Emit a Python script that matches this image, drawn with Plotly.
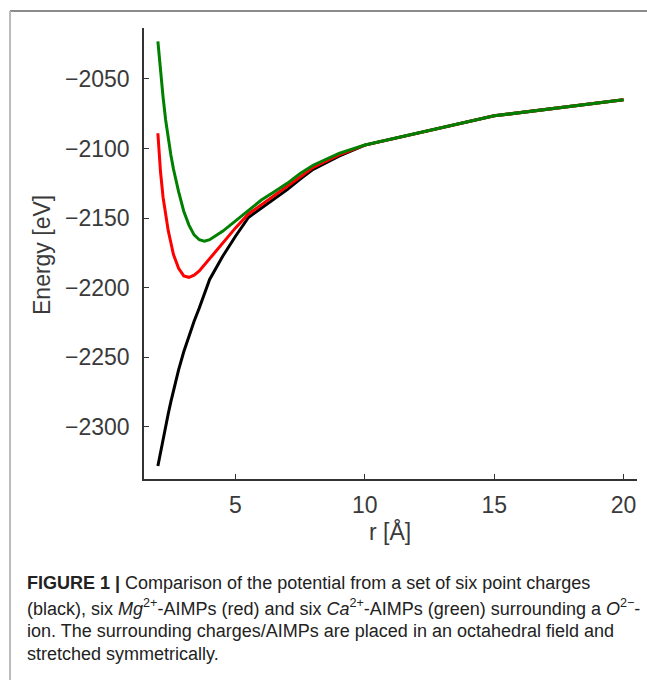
import plotly.graph_objects as go

# Distance r [Å]
r = [2.0, 2.1, 2.2, 2.3, 2.4, 2.5, 2.6, 2.8, 3.0, 3.2, 3.4, 3.6, 3.8, 4.0,
     4.5, 5.0, 5.5, 6.0, 6.5, 7.0, 7.5, 8.0, 9.0, 10.0, 15.0, 20.0]

# Energy [eV]
e_point_charges = [-2328, -2318, -2308.5, -2299.5, -2290.5, -2282, -2274, -2259, -2246,
                   -2234.5, -2224, -2214.5, -2203.5, -2194, -2177.5, -2163, -2149.5,
                   -2143, -2136.5, -2129.5, -2122, -2115, -2105.5, -2097.5, -2076.5, -2065]
e_mg_aimp = [-2089, -2116.5, -2135, -2147.5, -2159, -2167.5, -2176, -2186, -2191.5,
             -2192.5, -2191, -2188, -2183.5, -2179, -2167.5, -2157, -2147, -2140.5,
             -2134, -2127.5, -2120.5, -2113.5, -2104.5, -2097.5, -2076.5, -2065]
e_ca_aimp = [-2023, -2044, -2063, -2079.5, -2093, -2104.5, -2114.5, -2131, -2145, -2155,
             -2162, -2165.5, -2166.5, -2165.5, -2159.5, -2152, -2144.5, -2137,
             -2131, -2125, -2118, -2112, -2103.5, -2097.5, -2076.5, -2065]

x_ticks = [5, 10, 15, 20]
y_ticks = [-2300, -2250, -2200, -2150, -2100, -2050]

caption_lines = [
    "<b>FIGURE 1 |</b> Comparison of the potential from a set of six point charges",
    "(black), six <i>Mg</i><sup>2+</sup>-AIMPs (red) and six <i>Ca</i><sup>2+</sup>-AIMPs (green) surrounding a <i>O</i><sup>2−</sup>-",
    "ion. The surrounding charges/AIMPs are placed in an octahedral field and",
    "stretched symmetrically.",
]

fig = go.Figure()
fig.add_trace(go.Scatter(x=r, y=e_point_charges, mode="lines",
                         line=dict(color="#000000", width=3), name="point charges"))
fig.add_trace(go.Scatter(x=r, y=e_mg_aimp, mode="lines",
                         line=dict(color="#ff0000", width=3), name="Mg2+ AIMPs"))
fig.add_trace(go.Scatter(x=r, y=e_ca_aimp, mode="lines",
                         line=dict(color="#008000", width=3), name="Ca2+ AIMPs"))

W, H = 647, 680
L, R, T, B = 144, 10, 28, 201
PW, PH = W - L - R, H - T - B

def px_x(x):
    return (x - L) / PW

def px_y(y):
    return (H - B - y) / PH

font_family = "Liberation Sans, Arial, sans-serif"
axis_col = "#333333"
text_col = "#3a3a3a"

fig.update_layout(
    width=W, height=H,
    margin=dict(l=L, r=R, t=T, b=B, autoexpand=False),
    paper_bgcolor="white", plot_bgcolor="white",
    showlegend=False,
    font=dict(family=font_family, color=text_col),
    xaxis=dict(range=[1.463, 20.52], tickvals=x_ticks, ticks="inside", ticklen=5,
               tickcolor=axis_col, tickwidth=1.2, showline=True, linecolor=axis_col,
               linewidth=1.5, showgrid=False, zeroline=False,
               tickfont=dict(size=23, color=text_col), ticklabelstandoff=5),
    yaxis=dict(range=[-2337.4, -2013.4], tickvals=y_ticks, ticks="inside", ticklen=5,
               tickcolor=axis_col, tickwidth=1.2, showline=True, linecolor=axis_col,
               linewidth=1.5, showgrid=False, zeroline=False,
               tickfont=dict(size=23, color=text_col), ticklabelstandoff=8),
)

annotations = [
    dict(text="r [Å]", xref="paper", yref="paper", x=px_x(390), y=px_y(531),
         xanchor="center", yanchor="middle", showarrow=False,
         font=dict(size=23, color=text_col)),
    dict(text="Energy [eV]", xref="paper", yref="paper", x=px_x(42), y=px_y(255),
         xanchor="center", yanchor="middle", showarrow=False, textangle=-90,
         font=dict(size=23, color=text_col)),
]
line_y = [583, 607, 631, 654]
for txt, yy in zip(caption_lines, line_y):
    annotations.append(dict(text=txt, xref="paper", yref="paper", x=px_x(25), y=px_y(yy),
                            xanchor="left", yanchor="middle", showarrow=False, align="left",
                            font=dict(size=18, color="#222222")))
fig.update_layout(annotations=annotations)

fig.add_shape(type="line", xref="paper", yref="paper", x0=px_x(10), x1=px_x(647),
              y0=px_y(11), y1=px_y(11), line=dict(color="#666666", width=1.5))
fig.add_shape(type="line", xref="paper", yref="paper", x0=px_x(10), x1=px_x(10),
              y0=px_y(11), y1=px_y(680), line=dict(color="#bbbbbb", width=2))

fig.write_html("out.html", config={"displayModeBar": False},
               post_script="document.body.style.margin='0';document.body.style.overflow='hidden';")
